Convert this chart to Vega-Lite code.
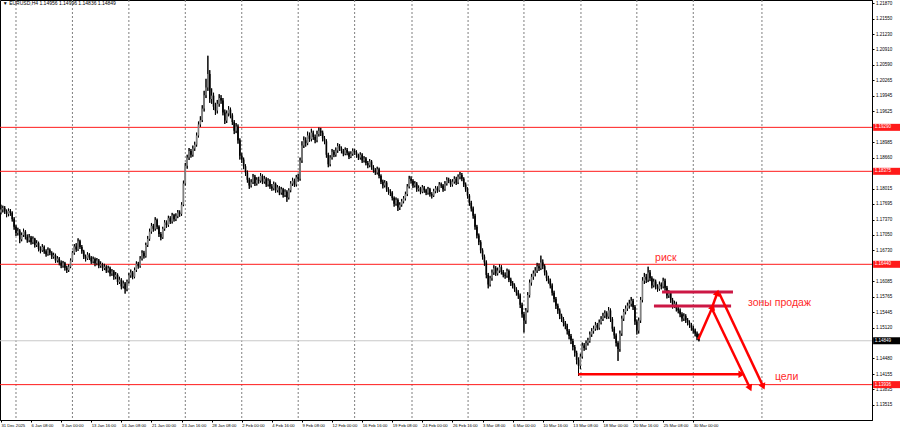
{
"$schema":"https://vega.github.io/schema/vega-lite/v6.json",
"width":872,"height":420,
"autosize":{"type":"none"},
"padding":{"left":0,"top":0,"right":28,"bottom":13},
"background":"white",
"config":{"view":{"stroke":"#000","strokeWidth":1},"font":"Liberation Sans",
 "axis":{"labelFontSize":4.5,"labelColor":"#000","labelPadding":1,"labelOverlap":false,"labelBound":false,"labelFlush":false,"tickSize":2,"tickColor":"#000","domainColor":"#000","grid":false,"title":null}},
"datasets":{
"bars":[
{"i":0,"o":1.1752,"h":1.1768,"l":1.1748,"c":1.1758},{"i":1,"o":1.1758,"h":1.1766,"l":1.1752,"c":1.1761},{"i":2,"o":1.1761,"h":1.1765,"l":1.1749,"c":1.1754},{"i":3,"o":1.1754,"h":1.1758,"l":1.1742,"c":1.1749},{"i":4,"o":1.1749,"h":1.1760,"l":1.1744,"c":1.1755},{"i":5,"o":1.1755,"h":1.1759,"l":1.1745,"c":1.1751},{"i":6,"o":1.1751,"h":1.1754,"l":1.1733,"c":1.1738},{"i":7,"o":1.1738,"h":1.1742,"l":1.1716,"c":1.1722},{"i":8,"o":1.1722,"h":1.1726,"l":1.1703,"c":1.1709},{"i":9,"o":1.1709,"h":1.1720,"l":1.1704,"c":1.1714},
{"i":10,"o":1.1714,"h":1.1717,"l":1.1688,"c":1.1696},{"i":11,"o":1.1696,"h":1.1710,"l":1.1692,"c":1.1705},{"i":12,"o":1.1705,"h":1.1718,"l":1.1701,"c":1.1712},{"i":13,"o":1.1712,"h":1.1715,"l":1.1696,"c":1.1701},{"i":14,"o":1.1701,"h":1.1706,"l":1.1689,"c":1.1694},{"i":15,"o":1.1694,"h":1.1707,"l":1.1690,"c":1.1700},{"i":16,"o":1.1700,"h":1.1703,"l":1.1685,"c":1.1690},{"i":17,"o":1.1690,"h":1.1702,"l":1.1686,"c":1.1697},{"i":18,"o":1.1697,"h":1.1699,"l":1.1679,"c":1.1684},{"i":19,"o":1.1684,"h":1.1694,"l":1.1680,"c":1.1688},
{"i":20,"o":1.1688,"h":1.1691,"l":1.1671,"c":1.1676},{"i":21,"o":1.1676,"h":1.1681,"l":1.1667,"c":1.1673},{"i":22,"o":1.1673,"h":1.1686,"l":1.1670,"c":1.1680},{"i":23,"o":1.1680,"h":1.1683,"l":1.1666,"c":1.1671},{"i":24,"o":1.1671,"h":1.1675,"l":1.1660,"c":1.1665},{"i":25,"o":1.1665,"h":1.1679,"l":1.1662,"c":1.1674},{"i":26,"o":1.1674,"h":1.1677,"l":1.1663,"c":1.1668},{"i":27,"o":1.1668,"h":1.1671,"l":1.1655,"c":1.1660},{"i":28,"o":1.1660,"h":1.1668,"l":1.1656,"c":1.1663},{"i":29,"o":1.1663,"h":1.1666,"l":1.1647,"c":1.1652},
{"i":30,"o":1.1652,"h":1.1661,"l":1.1648,"c":1.1656},{"i":31,"o":1.1656,"h":1.1659,"l":1.1642,"c":1.1648},{"i":32,"o":1.1648,"h":1.1652,"l":1.1636,"c":1.1641},{"i":33,"o":1.1641,"h":1.1651,"l":1.1637,"c":1.1646},{"i":34,"o":1.1646,"h":1.1649,"l":1.1631,"c":1.1637},{"i":35,"o":1.1637,"h":1.1641,"l":1.1626,"c":1.1632},{"i":36,"o":1.1632,"h":1.1644,"l":1.1628,"c":1.1639},{"i":37,"o":1.1639,"h":1.1656,"l":1.1636,"c":1.1652},{"i":38,"o":1.1652,"h":1.1672,"l":1.1649,"c":1.1668},{"i":39,"o":1.1668,"h":1.1686,"l":1.1664,"c":1.1681},
{"i":40,"o":1.1681,"h":1.1688,"l":1.1670,"c":1.1675},{"i":41,"o":1.1675,"h":1.1698,"l":1.1672,"c":1.1692},{"i":42,"o":1.1692,"h":1.1695,"l":1.1676,"c":1.1680},{"i":43,"o":1.1680,"h":1.1684,"l":1.1666,"c":1.1671},{"i":44,"o":1.1671,"h":1.1674,"l":1.1655,"c":1.1660},{"i":45,"o":1.1660,"h":1.1664,"l":1.1650,"c":1.1656},{"i":46,"o":1.1656,"h":1.1669,"l":1.1653,"c":1.1664},{"i":47,"o":1.1664,"h":1.1667,"l":1.1653,"c":1.1658},{"i":48,"o":1.1658,"h":1.1661,"l":1.1645,"c":1.1650},{"i":49,"o":1.1650,"h":1.1660,"l":1.1646,"c":1.1655},
{"i":50,"o":1.1655,"h":1.1658,"l":1.1640,"c":1.1646},{"i":51,"o":1.1646,"h":1.1657,"l":1.1642,"c":1.1652},{"i":52,"o":1.1652,"h":1.1655,"l":1.1636,"c":1.1641},{"i":53,"o":1.1641,"h":1.1650,"l":1.1637,"c":1.1644},{"i":54,"o":1.1644,"h":1.1647,"l":1.1630,"c":1.1636},{"i":55,"o":1.1636,"h":1.1645,"l":1.1632,"c":1.1639},{"i":56,"o":1.1639,"h":1.1642,"l":1.1626,"c":1.1631},{"i":57,"o":1.1631,"h":1.1641,"l":1.1627,"c":1.1636},{"i":58,"o":1.1636,"h":1.1639,"l":1.1619,"c":1.1625},{"i":59,"o":1.1625,"h":1.1634,"l":1.1620,"c":1.1629},
{"i":60,"o":1.1629,"h":1.1632,"l":1.1612,"c":1.1618},{"i":61,"o":1.1618,"h":1.1628,"l":1.1613,"c":1.1622},{"i":62,"o":1.1622,"h":1.1625,"l":1.1601,"c":1.1607},{"i":63,"o":1.1607,"h":1.1618,"l":1.1603,"c":1.1612},{"i":64,"o":1.1612,"h":1.1615,"l":1.1592,"c":1.1598},{"i":65,"o":1.1598,"h":1.1610,"l":1.1594,"c":1.1604},{"i":66,"o":1.1604,"h":1.1607,"l":1.1583,"c":1.1592},{"i":67,"o":1.1592,"h":1.1612,"l":1.1588,"c":1.1608},{"i":68,"o":1.1608,"h":1.1626,"l":1.1604,"c":1.1621},{"i":69,"o":1.1621,"h":1.1633,"l":1.1616,"c":1.1627},
{"i":70,"o":1.1627,"h":1.1630,"l":1.1613,"c":1.1618},{"i":71,"o":1.1618,"h":1.1637,"l":1.1615,"c":1.1632},{"i":72,"o":1.1632,"h":1.1650,"l":1.1628,"c":1.1645},{"i":73,"o":1.1645,"h":1.1649,"l":1.1635,"c":1.1640},{"i":74,"o":1.1640,"h":1.1661,"l":1.1637,"c":1.1656},{"i":75,"o":1.1656,"h":1.1673,"l":1.1652,"c":1.1668},{"i":76,"o":1.1668,"h":1.1672,"l":1.1656,"c":1.1661},{"i":77,"o":1.1661,"h":1.1689,"l":1.1658,"c":1.1684},{"i":78,"o":1.1684,"h":1.1703,"l":1.1680,"c":1.1697},{"i":79,"o":1.1697,"h":1.1718,"l":1.1693,"c":1.1712},
{"i":80,"o":1.1712,"h":1.1730,"l":1.1708,"c":1.1724},{"i":81,"o":1.1724,"h":1.1728,"l":1.1712,"c":1.1718},{"i":82,"o":1.1718,"h":1.1742,"l":1.1714,"c":1.1736},{"i":83,"o":1.1736,"h":1.1739,"l":1.1717,"c":1.1722},{"i":84,"o":1.1722,"h":1.1725,"l":1.1701,"c":1.1707},{"i":85,"o":1.1707,"h":1.1711,"l":1.1694,"c":1.1700},{"i":86,"o":1.1700,"h":1.1722,"l":1.1697,"c":1.1718},{"i":87,"o":1.1718,"h":1.1736,"l":1.1714,"c":1.1731},{"i":88,"o":1.1731,"h":1.1735,"l":1.1720,"c":1.1726},{"i":89,"o":1.1726,"h":1.1745,"l":1.1722,"c":1.1740},
{"i":90,"o":1.1740,"h":1.1744,"l":1.1728,"c":1.1733},{"i":91,"o":1.1733,"h":1.1751,"l":1.1729,"c":1.1746},{"i":92,"o":1.1746,"h":1.1749,"l":1.1733,"c":1.1738},{"i":93,"o":1.1738,"h":1.1750,"l":1.1734,"c":1.1744},{"i":94,"o":1.1744,"h":1.1757,"l":1.1740,"c":1.1752},{"i":95,"o":1.1752,"h":1.1756,"l":1.1743,"c":1.1749},{"i":96,"o":1.1749,"h":1.1773,"l":1.1745,"c":1.1768},{"i":97,"o":1.1768,"h":1.1818,"l":1.1765,"c":1.1812},{"i":98,"o":1.1812,"h":1.1855,"l":1.1808,"c":1.1849},{"i":99,"o":1.1849,"h":1.1872,"l":1.1843,"c":1.1866},
{"i":100,"o":1.1866,"h":1.1886,"l":1.1861,"c":1.1880},{"i":101,"o":1.1880,"h":1.1884,"l":1.1866,"c":1.1872},{"i":102,"o":1.1872,"h":1.1891,"l":1.1868,"c":1.1885},{"i":103,"o":1.1885,"h":1.1899,"l":1.1880,"c":1.1893},{"i":104,"o":1.1893,"h":1.1918,"l":1.1889,"c":1.1912},{"i":105,"o":1.1912,"h":1.1941,"l":1.1908,"c":1.1935},{"i":106,"o":1.1935,"h":1.1952,"l":1.1930,"c":1.1944},{"i":107,"o":1.1944,"h":1.1975,"l":1.1940,"c":1.1968},{"i":108,"o":1.1968,"h":1.2005,"l":1.1962,"c":1.1996},{"i":109,"o":1.1996,"h":1.2030,"l":1.1990,"c":1.2012},
{"i":110,"o":1.2012,"h":1.2078,"l":1.2005,"c":1.2040},{"i":111,"o":1.2040,"h":1.2048,"l":1.1980,"c":1.1988},{"i":112,"o":1.1988,"h":1.2010,"l":1.1978,"c":1.1995},{"i":113,"o":1.1995,"h":1.2001,"l":1.1965,"c":1.1972},{"i":114,"o":1.1972,"h":1.1980,"l":1.1955,"c":1.1964},{"i":115,"o":1.1964,"h":1.1986,"l":1.1958,"c":1.1978},{"i":116,"o":1.1978,"h":1.1998,"l":1.1972,"c":1.1990},{"i":117,"o":1.1990,"h":1.1996,"l":1.1978,"c":1.1985},{"i":118,"o":1.1985,"h":1.1990,"l":1.1954,"c":1.1960},{"i":119,"o":1.1960,"h":1.1966,"l":1.1936,"c":1.1943},
{"i":120,"o":1.1943,"h":1.1964,"l":1.1938,"c":1.1958},{"i":121,"o":1.1958,"h":1.1973,"l":1.1952,"c":1.1966},{"i":122,"o":1.1966,"h":1.1970,"l":1.1948,"c":1.1954},{"i":123,"o":1.1954,"h":1.1958,"l":1.1934,"c":1.1940},{"i":124,"o":1.1940,"h":1.1944,"l":1.1915,"c":1.1922},{"i":125,"o":1.1922,"h":1.1938,"l":1.1917,"c":1.1931},{"i":126,"o":1.1931,"h":1.1935,"l":1.1895,"c":1.1902},{"i":127,"o":1.1902,"h":1.1906,"l":1.1862,"c":1.1870},{"i":128,"o":1.1870,"h":1.1876,"l":1.1855,"c":1.1862},{"i":129,"o":1.1862,"h":1.1866,"l":1.1842,"c":1.1848},
{"i":130,"o":1.1848,"h":1.1852,"l":1.1828,"c":1.1835},{"i":131,"o":1.1835,"h":1.1839,"l":1.1814,"c":1.1820},{"i":132,"o":1.1820,"h":1.1824,"l":1.1801,"c":1.1808},{"i":133,"o":1.1808,"h":1.1821,"l":1.1804,"c":1.1815},{"i":134,"o":1.1815,"h":1.1832,"l":1.1811,"c":1.1826},{"i":135,"o":1.1826,"h":1.1830,"l":1.1807,"c":1.1812},{"i":136,"o":1.1812,"h":1.1825,"l":1.1808,"c":1.1820},{"i":137,"o":1.1820,"h":1.1826,"l":1.1812,"c":1.1818},{"i":138,"o":1.1818,"h":1.1834,"l":1.1814,"c":1.1828},{"i":139,"o":1.1828,"h":1.1831,"l":1.1811,"c":1.1816},
{"i":140,"o":1.1816,"h":1.1828,"l":1.1812,"c":1.1822},{"i":141,"o":1.1822,"h":1.1825,"l":1.1805,"c":1.1810},{"i":142,"o":1.1810,"h":1.1823,"l":1.1806,"c":1.1818},{"i":143,"o":1.1818,"h":1.1821,"l":1.1801,"c":1.1806},{"i":144,"o":1.1806,"h":1.1811,"l":1.1797,"c":1.1802},{"i":145,"o":1.1802,"h":1.1816,"l":1.1798,"c":1.1811},{"i":146,"o":1.1811,"h":1.1814,"l":1.1793,"c":1.1798},{"i":147,"o":1.1798,"h":1.1809,"l":1.1794,"c":1.1804},{"i":148,"o":1.1804,"h":1.1807,"l":1.1788,"c":1.1793},{"i":149,"o":1.1793,"h":1.1805,"l":1.1789,"c":1.1800},
{"i":150,"o":1.1800,"h":1.1803,"l":1.1783,"c":1.1788},{"i":151,"o":1.1788,"h":1.1800,"l":1.1784,"c":1.1795},{"i":152,"o":1.1795,"h":1.1798,"l":1.1774,"c":1.1783},{"i":153,"o":1.1783,"h":1.1802,"l":1.1779,"c":1.1798},{"i":154,"o":1.1798,"h":1.1817,"l":1.1794,"c":1.1812},{"i":155,"o":1.1812,"h":1.1824,"l":1.1807,"c":1.1818},{"i":156,"o":1.1818,"h":1.1822,"l":1.1805,"c":1.1810},{"i":157,"o":1.1810,"h":1.1830,"l":1.1806,"c":1.1825},{"i":158,"o":1.1825,"h":1.1832,"l":1.1816,"c":1.1822},{"i":159,"o":1.1822,"h":1.1866,"l":1.1818,"c":1.1860},
{"i":160,"o":1.1860,"h":1.1900,"l":1.1855,"c":1.1891},{"i":161,"o":1.1891,"h":1.1910,"l":1.1886,"c":1.1902},{"i":162,"o":1.1902,"h":1.1908,"l":1.1889,"c":1.1896},{"i":163,"o":1.1896,"h":1.1920,"l":1.1892,"c":1.1912},{"i":164,"o":1.1912,"h":1.1918,"l":1.1899,"c":1.1905},{"i":165,"o":1.1905,"h":1.1926,"l":1.1900,"c":1.1918},{"i":166,"o":1.1918,"h":1.1922,"l":1.1903,"c":1.1909},{"i":167,"o":1.1909,"h":1.1914,"l":1.1896,"c":1.1902},{"i":168,"o":1.1902,"h":1.1922,"l":1.1898,"c":1.1915},{"i":169,"o":1.1915,"h":1.1929,"l":1.1910,"c":1.1922},
{"i":170,"o":1.1922,"h":1.1928,"l":1.1911,"c":1.1918},{"i":171,"o":1.1918,"h":1.1922,"l":1.1900,"c":1.1906},{"i":172,"o":1.1906,"h":1.1911,"l":1.1894,"c":1.1900},{"i":173,"o":1.1900,"h":1.1904,"l":1.1866,"c":1.1872},{"i":174,"o":1.1872,"h":1.1876,"l":1.1846,"c":1.1852},{"i":175,"o":1.1852,"h":1.1871,"l":1.1848,"c":1.1866},{"i":176,"o":1.1866,"h":1.1884,"l":1.1862,"c":1.1878},{"i":177,"o":1.1878,"h":1.1882,"l":1.1867,"c":1.1872},{"i":178,"o":1.1872,"h":1.1887,"l":1.1868,"c":1.1881},{"i":179,"o":1.1881,"h":1.1896,"l":1.1876,"c":1.1890},
{"i":180,"o":1.1890,"h":1.1894,"l":1.1880,"c":1.1885},{"i":181,"o":1.1885,"h":1.1889,"l":1.1875,"c":1.1880},{"i":182,"o":1.1880,"h":1.1884,"l":1.1869,"c":1.1874},{"i":183,"o":1.1874,"h":1.1887,"l":1.1871,"c":1.1882},{"i":184,"o":1.1882,"h":1.1886,"l":1.1871,"c":1.1876},{"i":185,"o":1.1876,"h":1.1879,"l":1.1863,"c":1.1868},{"i":186,"o":1.1868,"h":1.1879,"l":1.1865,"c":1.1874},{"i":187,"o":1.1874,"h":1.1885,"l":1.1870,"c":1.1880},{"i":188,"o":1.1880,"h":1.1884,"l":1.1872,"c":1.1877},{"i":189,"o":1.1877,"h":1.1881,"l":1.1866,"c":1.1871},
{"i":190,"o":1.1871,"h":1.1874,"l":1.1861,"c":1.1866},{"i":191,"o":1.1866,"h":1.1877,"l":1.1862,"c":1.1872},{"i":192,"o":1.1872,"h":1.1875,"l":1.1855,"c":1.1860},{"i":193,"o":1.1860,"h":1.1869,"l":1.1856,"c":1.1864},{"i":194,"o":1.1864,"h":1.1867,"l":1.1850,"c":1.1855},{"i":195,"o":1.1855,"h":1.1859,"l":1.1844,"c":1.1850},{"i":196,"o":1.1850,"h":1.1863,"l":1.1846,"c":1.1858},{"i":197,"o":1.1858,"h":1.1861,"l":1.1841,"c":1.1846},{"i":198,"o":1.1846,"h":1.1850,"l":1.1835,"c":1.1840},{"i":199,"o":1.1840,"h":1.1844,"l":1.1830,"c":1.1835},
{"i":200,"o":1.1835,"h":1.1847,"l":1.1831,"c":1.1842},{"i":201,"o":1.1842,"h":1.1845,"l":1.1823,"c":1.1828},{"i":202,"o":1.1828,"h":1.1831,"l":1.1811,"c":1.1816},{"i":203,"o":1.1816,"h":1.1820,"l":1.1802,"c":1.1808},{"i":204,"o":1.1808,"h":1.1819,"l":1.1804,"c":1.1814},{"i":205,"o":1.1814,"h":1.1817,"l":1.1795,"c":1.1800},{"i":206,"o":1.1800,"h":1.1804,"l":1.1789,"c":1.1795},{"i":207,"o":1.1795,"h":1.1800,"l":1.1786,"c":1.1793},{"i":208,"o":1.1793,"h":1.1796,"l":1.1777,"c":1.1782},{"i":209,"o":1.1782,"h":1.1785,"l":1.1764,"c":1.1770},
{"i":210,"o":1.1770,"h":1.1783,"l":1.1766,"c":1.1778},{"i":211,"o":1.1778,"h":1.1781,"l":1.1755,"c":1.1762},{"i":212,"o":1.1762,"h":1.1773,"l":1.1757,"c":1.1768},{"i":213,"o":1.1768,"h":1.1780,"l":1.1764,"c":1.1775},{"i":214,"o":1.1775,"h":1.1786,"l":1.1771,"c":1.1781},{"i":215,"o":1.1781,"h":1.1795,"l":1.1777,"c":1.1790},{"i":216,"o":1.1790,"h":1.1811,"l":1.1786,"c":1.1806},{"i":217,"o":1.1806,"h":1.1828,"l":1.1802,"c":1.1822},{"i":218,"o":1.1822,"h":1.1827,"l":1.1812,"c":1.1818},{"i":219,"o":1.1818,"h":1.1821,"l":1.1803,"c":1.1808},
{"i":220,"o":1.1808,"h":1.1817,"l":1.1804,"c":1.1812},{"i":221,"o":1.1812,"h":1.1815,"l":1.1795,"c":1.1800},{"i":222,"o":1.1800,"h":1.1808,"l":1.1796,"c":1.1802},{"i":223,"o":1.1802,"h":1.1805,"l":1.1790,"c":1.1795},{"i":224,"o":1.1795,"h":1.1809,"l":1.1792,"c":1.1804},{"i":225,"o":1.1804,"h":1.1807,"l":1.1793,"c":1.1798},{"i":226,"o":1.1798,"h":1.1801,"l":1.1788,"c":1.1793},{"i":227,"o":1.1793,"h":1.1805,"l":1.1789,"c":1.1800},{"i":228,"o":1.1800,"h":1.1803,"l":1.1785,"c":1.1790},{"i":229,"o":1.1790,"h":1.1794,"l":1.1781,"c":1.1787},
{"i":230,"o":1.1787,"h":1.1801,"l":1.1784,"c":1.1796},{"i":231,"o":1.1796,"h":1.1807,"l":1.1792,"c":1.1802},{"i":232,"o":1.1802,"h":1.1806,"l":1.1793,"c":1.1798},{"i":233,"o":1.1798,"h":1.1815,"l":1.1795,"c":1.1810},{"i":234,"o":1.1810,"h":1.1814,"l":1.1803,"c":1.1808},{"i":235,"o":1.1808,"h":1.1811,"l":1.1795,"c":1.1800},{"i":236,"o":1.1800,"h":1.1817,"l":1.1797,"c":1.1812},{"i":237,"o":1.1812,"h":1.1825,"l":1.1808,"c":1.1820},{"i":238,"o":1.1820,"h":1.1824,"l":1.1813,"c":1.1818},{"i":239,"o":1.1818,"h":1.1821,"l":1.1805,"c":1.1810},
{"i":240,"o":1.1810,"h":1.1821,"l":1.1806,"c":1.1816},{"i":241,"o":1.1816,"h":1.1827,"l":1.1812,"c":1.1822},{"i":242,"o":1.1822,"h":1.1826,"l":1.1809,"c":1.1814},{"i":243,"o":1.1814,"h":1.1831,"l":1.1811,"c":1.1826},{"i":244,"o":1.1826,"h":1.1836,"l":1.1821,"c":1.1830},{"i":245,"o":1.1830,"h":1.1834,"l":1.1817,"c":1.1822},{"i":246,"o":1.1822,"h":1.1825,"l":1.1805,"c":1.1810},{"i":247,"o":1.1810,"h":1.1814,"l":1.1795,"c":1.1800},{"i":248,"o":1.1800,"h":1.1804,"l":1.1781,"c":1.1787},{"i":249,"o":1.1787,"h":1.1790,"l":1.1766,"c":1.1772},
{"i":250,"o":1.1772,"h":1.1776,"l":1.1754,"c":1.1760},{"i":251,"o":1.1760,"h":1.1764,"l":1.1739,"c":1.1745},{"i":252,"o":1.1745,"h":1.1749,"l":1.1716,"c":1.1722},{"i":253,"o":1.1722,"h":1.1726,"l":1.1698,"c":1.1704},{"i":254,"o":1.1704,"h":1.1708,"l":1.1684,"c":1.1690},{"i":255,"o":1.1690,"h":1.1694,"l":1.1667,"c":1.1673},{"i":256,"o":1.1673,"h":1.1677,"l":1.1654,"c":1.1660},{"i":257,"o":1.1660,"h":1.1664,"l":1.1641,"c":1.1648},{"i":258,"o":1.1648,"h":1.1652,"l":1.1615,"c":1.1622},{"i":259,"o":1.1622,"h":1.1626,"l":1.1594,"c":1.1602},
{"i":260,"o":1.1602,"h":1.1620,"l":1.1598,"c":1.1615},{"i":261,"o":1.1615,"h":1.1633,"l":1.1610,"c":1.1627},{"i":262,"o":1.1627,"h":1.1642,"l":1.1622,"c":1.1636},{"i":263,"o":1.1636,"h":1.1640,"l":1.1620,"c":1.1625},{"i":264,"o":1.1625,"h":1.1637,"l":1.1621,"c":1.1631},{"i":265,"o":1.1631,"h":1.1644,"l":1.1626,"c":1.1638},{"i":266,"o":1.1638,"h":1.1642,"l":1.1623,"c":1.1628},{"i":267,"o":1.1628,"h":1.1632,"l":1.1617,"c":1.1622},{"i":268,"o":1.1622,"h":1.1627,"l":1.1614,"c":1.1620},{"i":269,"o":1.1620,"h":1.1635,"l":1.1616,"c":1.1630},
{"i":270,"o":1.1630,"h":1.1633,"l":1.1607,"c":1.1612},{"i":271,"o":1.1612,"h":1.1616,"l":1.1599,"c":1.1605},{"i":272,"o":1.1605,"h":1.1609,"l":1.1594,"c":1.1600},{"i":273,"o":1.1600,"h":1.1604,"l":1.1587,"c":1.1592},{"i":274,"o":1.1592,"h":1.1596,"l":1.1579,"c":1.1585},{"i":275,"o":1.1585,"h":1.1590,"l":1.1572,"c":1.1579},{"i":276,"o":1.1579,"h":1.1583,"l":1.1553,"c":1.1560},{"i":277,"o":1.1560,"h":1.1564,"l":1.1533,"c":1.1540},{"i":278,"o":1.1540,"h":1.1545,"l":1.1502,"c":1.1527},{"i":279,"o":1.1527,"h":1.1553,"l":1.1520,"c":1.1548},
{"i":280,"o":1.1548,"h":1.1586,"l":1.1544,"c":1.1580},{"i":281,"o":1.1580,"h":1.1612,"l":1.1575,"c":1.1606},{"i":282,"o":1.1606,"h":1.1624,"l":1.1600,"c":1.1618},{"i":283,"o":1.1618,"h":1.1631,"l":1.1612,"c":1.1625},{"i":284,"o":1.1625,"h":1.1638,"l":1.1619,"c":1.1631},{"i":285,"o":1.1631,"h":1.1647,"l":1.1626,"c":1.1640},{"i":286,"o":1.1640,"h":1.1646,"l":1.1630,"c":1.1636},{"i":287,"o":1.1636,"h":1.1662,"l":1.1632,"c":1.1648},{"i":288,"o":1.1648,"h":1.1654,"l":1.1634,"c":1.1640},{"i":289,"o":1.1640,"h":1.1644,"l":1.1621,"c":1.1627},
{"i":290,"o":1.1627,"h":1.1631,"l":1.1609,"c":1.1615},{"i":291,"o":1.1615,"h":1.1620,"l":1.1604,"c":1.1610},{"i":292,"o":1.1610,"h":1.1614,"l":1.1594,"c":1.1600},{"i":293,"o":1.1600,"h":1.1604,"l":1.1579,"c":1.1585},{"i":294,"o":1.1585,"h":1.1589,"l":1.1565,"c":1.1572},{"i":295,"o":1.1572,"h":1.1576,"l":1.1551,"c":1.1558},{"i":296,"o":1.1558,"h":1.1562,"l":1.1541,"c":1.1548},{"i":297,"o":1.1548,"h":1.1552,"l":1.1530,"c":1.1537},{"i":298,"o":1.1537,"h":1.1541,"l":1.1524,"c":1.1530},{"i":299,"o":1.1530,"h":1.1534,"l":1.1515,"c":1.1522},
{"i":300,"o":1.1522,"h":1.1526,"l":1.1509,"c":1.1516},{"i":301,"o":1.1516,"h":1.1520,"l":1.1498,"c":1.1505},{"i":302,"o":1.1505,"h":1.1509,"l":1.1488,"c":1.1495},{"i":303,"o":1.1495,"h":1.1499,"l":1.1478,"c":1.1485},{"i":304,"o":1.1485,"h":1.1489,"l":1.1465,"c":1.1472},{"i":305,"o":1.1472,"h":1.1476,"l":1.1452,"c":1.1460},{"i":306,"o":1.1460,"h":1.1464,"l":1.1436,"c":1.1445},{"i":307,"o":1.1445,"h":1.1450,"l":1.1412,"c":1.1433},{"i":308,"o":1.1433,"h":1.1458,"l":1.1426,"c":1.1452},{"i":309,"o":1.1452,"h":1.1481,"l":1.1448,"c":1.1475},
{"i":310,"o":1.1475,"h":1.1480,"l":1.1464,"c":1.1470},{"i":311,"o":1.1470,"h":1.1486,"l":1.1466,"c":1.1480},{"i":312,"o":1.1480,"h":1.1491,"l":1.1475,"c":1.1485},{"i":313,"o":1.1485,"h":1.1504,"l":1.1481,"c":1.1498},{"i":314,"o":1.1498,"h":1.1511,"l":1.1493,"c":1.1505},{"i":315,"o":1.1505,"h":1.1516,"l":1.1500,"c":1.1510},{"i":316,"o":1.1510,"h":1.1524,"l":1.1506,"c":1.1518},{"i":317,"o":1.1518,"h":1.1522,"l":1.1507,"c":1.1512},{"i":318,"o":1.1512,"h":1.1529,"l":1.1508,"c":1.1523},{"i":319,"o":1.1523,"h":1.1536,"l":1.1519,"c":1.1530},
{"i":320,"o":1.1530,"h":1.1543,"l":1.1526,"c":1.1537},{"i":321,"o":1.1537,"h":1.1548,"l":1.1532,"c":1.1542},{"i":322,"o":1.1542,"h":1.1546,"l":1.1530,"c":1.1535},{"i":323,"o":1.1535,"h":1.1555,"l":1.1531,"c":1.1548},{"i":324,"o":1.1548,"h":1.1552,"l":1.1524,"c":1.1530},{"i":325,"o":1.1530,"h":1.1534,"l":1.1504,"c":1.1510},{"i":326,"o":1.1510,"h":1.1514,"l":1.1489,"c":1.1496},{"i":327,"o":1.1496,"h":1.1500,"l":1.1473,"c":1.1480},{"i":328,"o":1.1480,"h":1.1484,"l":1.1443,"c":1.1468},{"i":329,"o":1.1468,"h":1.1506,"l":1.1462,"c":1.1500},
{"i":330,"o":1.1500,"h":1.1537,"l":1.1495,"c":1.1531},{"i":331,"o":1.1531,"h":1.1551,"l":1.1526,"c":1.1545},{"i":332,"o":1.1545,"h":1.1558,"l":1.1540,"c":1.1552},{"i":333,"o":1.1552,"h":1.1564,"l":1.1547,"c":1.1558},{"i":334,"o":1.1558,"h":1.1570,"l":1.1552,"c":1.1562},{"i":335,"o":1.1562,"h":1.1576,"l":1.1556,"c":1.1568},{"i":336,"o":1.1568,"h":1.1572,"l":1.1549,"c":1.1555},{"i":337,"o":1.1555,"h":1.1559,"l":1.1518,"c":1.1525},{"i":338,"o":1.1525,"h":1.1529,"l":1.1498,"c":1.1506},{"i":339,"o":1.1506,"h":1.1533,"l":1.1500,"c":1.1527},
{"i":340,"o":1.1527,"h":1.1576,"l":1.1522,"c":1.1570},{"i":341,"o":1.1570,"h":1.1617,"l":1.1565,"c":1.1610},{"i":342,"o":1.1610,"h":1.1626,"l":1.1603,"c":1.1618},{"i":343,"o":1.1618,"h":1.1624,"l":1.1605,"c":1.1612},{"i":344,"o":1.1612,"h":1.1639,"l":1.1607,"c":1.1627},{"i":345,"o":1.1627,"h":1.1632,"l":1.1609,"c":1.1615},{"i":346,"o":1.1615,"h":1.1619,"l":1.1594,"c":1.1600},{"i":347,"o":1.1600,"h":1.1614,"l":1.1596,"c":1.1608},{"i":348,"o":1.1608,"h":1.1612,"l":1.1592,"c":1.1598},{"i":349,"o":1.1598,"h":1.1602,"l":1.1587,"c":1.1593},
{"i":350,"o":1.1593,"h":1.1608,"l":1.1589,"c":1.1602},{"i":351,"o":1.1602,"h":1.1606,"l":1.1592,"c":1.1598},{"i":352,"o":1.1598,"h":1.1616,"l":1.1594,"c":1.1610},{"i":353,"o":1.1610,"h":1.1614,"l":1.1589,"c":1.1595},{"i":354,"o":1.1595,"h":1.1599,"l":1.1573,"c":1.1579},{"i":355,"o":1.1579,"h":1.1590,"l":1.1574,"c":1.1584},{"i":356,"o":1.1584,"h":1.1588,"l":1.1564,"c":1.1570},{"i":357,"o":1.1570,"h":1.1574,"l":1.1552,"c":1.1558},{"i":358,"o":1.1558,"h":1.1568,"l":1.1553,"c":1.1562},{"i":359,"o":1.1562,"h":1.1566,"l":1.1546,"c":1.1552},
{"i":360,"o":1.1552,"h":1.1557,"l":1.1542,"c":1.1548},{"i":361,"o":1.1548,"h":1.1552,"l":1.1534,"c":1.1540},{"i":362,"o":1.1540,"h":1.1544,"l":1.1525,"c":1.1531},{"i":363,"o":1.1531,"h":1.1542,"l":1.1526,"c":1.1536},{"i":364,"o":1.1536,"h":1.1540,"l":1.1522,"c":1.1528},{"i":365,"o":1.1528,"h":1.1532,"l":1.1517,"c":1.1523},{"i":366,"o":1.1523,"h":1.1527,"l":1.1512,"c":1.1518},{"i":367,"o":1.1518,"h":1.1522,"l":1.1506,"c":1.1512},{"i":368,"o":1.1512,"h":1.1516,"l":1.1500,"c":1.1506},{"i":369,"o":1.1506,"h":1.1510,"l":1.1494,"c":1.1500},
{"i":370,"o":1.1500,"h":1.1504,"l":1.1486,"c":1.1492},{"i":371,"o":1.14956,"h":1.14996,"l":1.14836,"c":1.14849}
],
"vgrid":[{"i":8},{"i":38},{"i":68},{"i":98},{"i":128},{"i":158},{"i":188},{"i":218.5},{"i":248.3},{"i":278},{"i":308.3},{"i":338},{"i":368},{"i":404.5}],
"levels":[{"p":1.19290},{"p":1.18375},{"p":1.16440},{"p":1.13936}],
"zones":[{"i":351.4,"i2":389.1,"p":1.15864},{"i":347.1,"i2":388.1,"p":1.15572}],
"arrows":[
{"arrow":"up1","s":0,"i":370.7,"p":1.14879},{"arrow":"up1","s":1,"i":378.3,"p":1.15558},
{"arrow":"up2","s":0,"i":377.8,"p":1.15524},{"arrow":"up2","s":1,"i":380.8,"p":1.15849},
{"arrow":"down1","s":0,"i":381.8,"p":1.15836},{"arrow":"down1","s":1,"i":405.2,"p":1.13893},
{"arrow":"down2","s":0,"i":377.8,"p":1.15524},{"arrow":"down2","s":1,"i":398.2,"p":1.13860},
{"arrow":"flat","s":0,"i":306.9,"p":1.14151},{"arrow":"flat","s":1,"i":393.7,"p":1.14151}
],
"notes":[{"i":347.7,"p":1.16571,"t":"риск"},{"i":397.1,"p":1.15635,"t":"зоны продаж"},{"i":411.4,"p":1.14095,"t":"цели"}],
"header":[{"i":1,"p":1.2188,"t":"▼ EURUSD,H4  1.14956 1.14996 1.14836 1.14849"}],
"tags":[{"p":1.19290,"kind":"level"},{"p":1.18375,"kind":"level"},{"p":1.16440,"kind":"level"},{"p":1.13936,"kind":"level"},{"p":1.14849,"kind":"bid"}]
},
"layer":[
{"data":{"name":"bars"},"mark":{"type":"rule","color":"#000","strokeWidth":1},
 "encoding":{
  "x":{"field":"i","type":"quantitative","scale":{"domain":[-0.5,463],"nice":false,"zero":false},
   "axis":{"orient":"bottom","tickCount":100,"values":[0,16,32,48,64,80,96,112,128,144,160,176,192,208,224,240,256,272,288,304,320,336,352,368],
    "labelExpr":"['31 Dec 2025','6 Jan 08:00','9 Jan 00:00','13 Jan 16:00','16 Jan 08:00','21 Jan 00:00','23 Jan 16:00','28 Jan 08:00','2 Feb 00:00','4 Feb 16:00','9 Feb 08:00','12 Feb 00:00','16 Feb 16:00','19 Feb 08:00','24 Feb 00:00','26 Feb 16:00','3 Mar 08:00','6 Mar 00:00','10 Mar 16:00','13 Mar 08:00','18 Mar 00:00','20 Mar 16:00','25 Mar 08:00','30 Mar 00:00'][round(datum.value/16)]",
    "labelAlign":"left","labelOverlap":false,"labelFontSize":4.2,"labelPadding":1.5,"tickSize":2}},
  "y":{"field":"l","type":"quantitative","scale":{"domain":[1.132,1.2194],"nice":false,"zero":false},
   "axis":{"orient":"right","tickCount":100,"values":[1.2187,1.2155,1.2123,1.2091,1.2059,1.20265,1.19945,1.19625,1.18985,1.1866,1.18015,1.17695,1.1737,1.1705,1.1673,1.16085,1.15765,1.15445,1.1512,1.1448,1.14155,1.13835,1.13515,1.1319],
    "format":".5f","labelAlign":"left","labelOverlap":false,"labelFontSize":4.5,"labelPadding":1.5,"tickSize":2}},
  "y2":{"field":"h"}}},
{"data":{"name":"vgrid"},"mark":{"type":"rule","color":"#7f7f7f","strokeDash":[2,2],"strokeWidth":1},
 "encoding":{"x":{"field":"i","type":"quantitative"}}},
{"data":{"values":[{"p":1.14849}]},"mark":{"type":"rule","color":"#c8c8c8","strokeWidth":1},
 "encoding":{"y":{"field":"p","type":"quantitative"}}},
{"data":{"name":"levels"},"mark":{"type":"rule","color":"#ff1a1a","strokeWidth":1},
 "encoding":{"y":{"field":"p","type":"quantitative"}}},
{"data":{"name":"bars"},"mark":{"type":"rule","color":"#000","strokeWidth":1},
 "encoding":{"x":{"field":"i","type":"quantitative"},"y":{"field":"l","type":"quantitative"},"y2":{"field":"h"}}},
{"data":{"name":"bars"},"mark":{"type":"rule","strokeWidth":1.6},
 "encoding":{
  "x":{"field":"i","type":"quantitative"},
  "y":{"field":"o","type":"quantitative"},
  "y2":{"field":"c"},
  "color":{"condition":{"test":"datum.c >= datum.o","value":"#808080"},"value":"#000000"}}},
{"data":{"name":"zones"},"mark":{"type":"rule","color":"#cc1744","strokeWidth":3},
 "encoding":{"x":{"field":"i","type":"quantitative"},"x2":{"field":"i2"},"y":{"field":"p","type":"quantitative"}}},
{"data":{"name":"arrows"},"mark":{"type":"line","color":"#ff0000","strokeWidth":2.5},
 "encoding":{"x":{"field":"i","type":"quantitative"},"y":{"field":"p","type":"quantitative"},"detail":{"field":"arrow"},"order":{"field":"s"}}},
{"data":{"name":"arrows"},"transform":[{"filter":"datum.s == 1 && (datum.arrow == 'up1' || datum.arrow == 'up2')"}],
 "mark":{"type":"point","shape":"triangle-up","filled":true,"opacity":1,"color":"#ff0000","size":55,"angle":20},
 "encoding":{"x":{"field":"i","type":"quantitative"},"y":{"field":"p","type":"quantitative"}}},
{"data":{"name":"arrows"},"transform":[{"filter":"datum.s == 1 && (datum.arrow == 'down1' || datum.arrow == 'down2')"}],
 "mark":{"type":"point","shape":"triangle-up","filled":true,"opacity":1,"color":"#ff0000","size":55,"angle":155},
 "encoding":{"x":{"field":"i","type":"quantitative"},"y":{"field":"p","type":"quantitative"}}},
{"data":{"name":"arrows"},"transform":[{"filter":"datum.s == 1 && datum.arrow == 'flat'"}],
 "mark":{"type":"point","shape":"triangle-up","filled":true,"opacity":1,"color":"#ff0000","size":55,"angle":90},
 "encoding":{"x":{"field":"i","type":"quantitative"},"y":{"field":"p","type":"quantitative"}}},
{"data":{"name":"notes"},"mark":{"type":"text","align":"left","baseline":"middle","fontSize":10.5,"color":"#ff2a2a","font":"Liberation Sans"},
 "encoding":{"x":{"field":"i","type":"quantitative"},"y":{"field":"p","type":"quantitative"},"text":{"field":"t"}}},
{"data":{"name":"header"},"mark":{"type":"text","align":"left","baseline":"middle","fontSize":5,"color":"#000","font":"Liberation Sans"},
 "encoding":{"x":{"field":"i","type":"quantitative"},"y":{"field":"p","type":"quantitative"},"text":{"field":"t"}}},
{"data":{"name":"tags"},"mark":{"type":"rect","height":7},
 "encoding":{
  "x":{"datum":463.6,"type":"quantitative"},
  "x2":{"datum":478.5},
  "y":{"field":"p","type":"quantitative"},
  "color":{"condition":{"test":"datum.kind == 'bid'","value":"#000000"},"value":"#ff1a1a"}}},
{"data":{"name":"tags"},"mark":{"type":"text","align":"left","baseline":"middle","fontSize":4.5,"color":"#ffffff","font":"Liberation Sans","dx":1.5},
 "encoding":{"x":{"datum":463.6,"type":"quantitative"},"y":{"field":"p","type":"quantitative"},"text":{"field":"p","format":".5f"}}}
]
}
